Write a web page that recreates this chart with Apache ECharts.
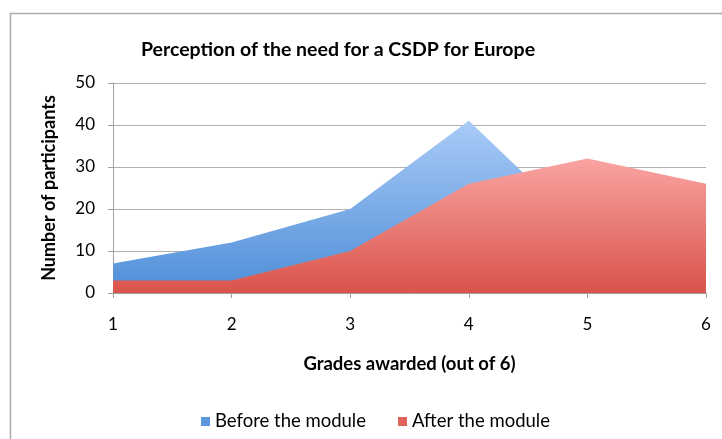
<!DOCTYPE html>
<html>
<head>
<meta charset="utf-8">
<script src="https://cdn.jsdelivr.net/npm/echarts@6/dist/echarts.min.js"></script>
<style>
  html, body { margin: 0; padding: 0; background: #fff; }
  #chart { width: 722px; height: 439px; }
</style>
</head>
<body>
<div id="chart"></div>
<script>
// grades 1..6
const grades = ['1', '2', '3', '4', '5', '6']
const beforeModule = [7, 12, 20, 41, 14, 5]
const afterModule = [3, 3, 10, 26, 32, 26]

const font = 'Lato, "Open Sans", sans-serif'

const chart = echarts.init(document.getElementById('chart'))

chart.setOption({
  animation: false,
  textStyle: { fontFamily: font },
  title: {
    text: 'Perception of the need for a CSDP for Europe',
    left: 333,
    textAlign: 'center',
    top: 35,
    textStyle: { fontSize: 19.5, fontWeight: 'bold', color: '#000', fontFamily: font }
  },
  graphic: [{
    type: 'rect',
    shape: { x: 10.5, y: 13.5, width: 800, height: 500 },
    style: { fill: 'none', stroke: '#aaaaaa', lineWidth: 1.5 },
    silent: true
  }],
  legend: {
    top: 407,
    left: 196,
    icon: 'rect',
    itemWidth: 9,
    itemHeight: 9,
    itemGap: 32,
    textStyle: { fontSize: 18.5, color: '#000', fontFamily: font },
    data: ['Before the module', 'After the module']
  },
  grid: { left: 113, right: 16, top: 83, bottom: 146 },
  xAxis: {
    type: 'category',
    data: grades,
    boundaryGap: false,
    name: 'Grades awarded (out of 6)',
    nameLocation: 'middle',
    nameGap: 62,
    nameTextStyle: { fontSize: 18.5, fontWeight: 'bold', color: '#000' },
    axisLine: { lineStyle: { color: '#a0a0a0' } },
    axisTick: { length: 5, lineStyle: { color: '#a0a0a0' } },
    axisLabel: { fontSize: 17, color: '#000', margin: 23 }
  },
  yAxis: {
    type: 'value',
    min: 0,
    max: 50,
    interval: 10,
    name: 'Number of participants',
    nameLocation: 'middle',
    nameGap: 55,
    nameTextStyle: { fontSize: 18, fontWeight: 'bold', color: '#000' },
    axisLine: { show: true, lineStyle: { color: '#a0a0a0' } },
    axisTick: { show: true, length: 5, lineStyle: { color: '#a0a0a0' } },
    axisLabel: { fontSize: 17, color: '#000', margin: 18 },
    splitLine: { lineStyle: { color: '#b0b0b0' } }
  },
  series: [
    {
      name: 'Before the module',
      type: 'line',
      data: beforeModule,
      symbol: 'none',
      lineStyle: { width: 0 },
      itemStyle: { color: '#5a97dd' },
      areaStyle: {
        opacity: 1,
        color: new echarts.graphic.LinearGradient(0, 0, 0, 1, [
          { offset: 0, color: '#a9cbf7' },
          { offset: 1, color: '#4f8ed8' }
        ])
      }
    },
    {
      name: 'After the module',
      type: 'line',
      data: afterModule,
      symbol: 'none',
      lineStyle: { width: 0 },
      itemStyle: { color: '#e0645c' },
      areaStyle: {
        opacity: 1,
        color: new echarts.graphic.LinearGradient(0, 0, 0, 1, [
          { offset: 0, color: '#f9a4a1' },
          { offset: 1, color: '#d9534a' }
        ])
      }
    }
  ]
})
</script>
</body>
</html>
